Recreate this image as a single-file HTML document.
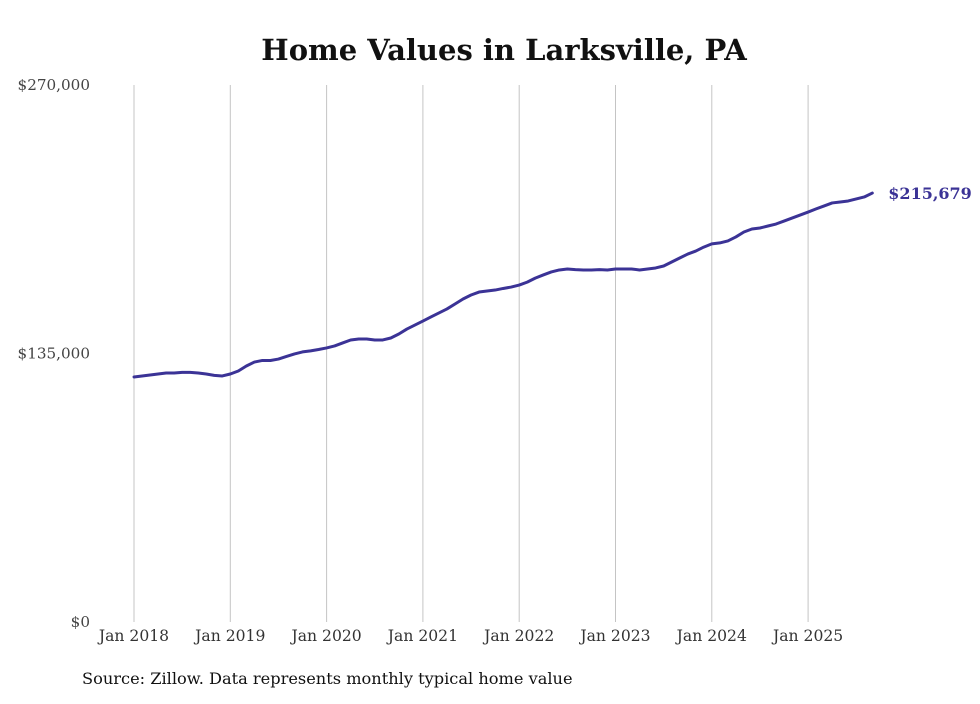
<!DOCTYPE html>
<html><head><meta charset="utf-8"><style>
body{margin:0;background:#fff;}
svg text{font-family:"DejaVu Serif","Liberation Serif",serif;}
</style></head><body>
<svg width="980" height="699" viewBox="0 0 980 699" xmlns="http://www.w3.org/2000/svg">
<text x="504" y="60" text-anchor="middle" font-size="29" font-weight="bold" fill="#111">Home Values in Larksville, PA</text>
<g id="grid"></g><g id="yaxis"></g><g id="xaxis"></g><g id="series"></g>
<text x="82" y="684" font-size="16.2" fill="#111">Source: Zillow. Data represents monthly typical home value</text>
</svg>
<script>
const yTicks=[0,135000,270000];
const yTickLabels=["$0","$135,000","$270,000"];
const xYears=[2018,2019,2020,2021,2022,2023,2024,2025];
const xTickLabels=["Jan 2018","Jan 2019","Jan 2020","Jan 2021","Jan 2022","Jan 2023","Jan 2024","Jan 2025"];
const startYear=2018;
const values=[
123200,123700,124200,124700,125200,125200,125500,125500,125200,124700,124000,123700,
124700,126200,128700,130700,131500,131500,132200,133500,134800,135800,136300,137000,
137800,138800,140300,141800,142300,142300,141800,141800,142800,144800,147300,149300,
151300,153400,155400,157400,159900,162400,164400,165900,166400,166900,167700,168400,
169400,170900,172900,174500,176000,177000,177500,177200,177000,177000,177200,177000,
177500,177500,177500,177000,177500,178000,179000,181000,183000,185000,186500,188500,
190100,190600,191600,193600,196100,197600,198100,199100,200100,201600,203100,204600,
206100,207700,209200,210700,211200,211700,212700,213700,215679];
const lastLabel="$215,679";
const NS="http://www.w3.org/2000/svg";
function yS(v){return 622-v*(537/270000);}
function xS(m){return 134+m*(96.3/12);}
function mk(tag,attrs,parent,txt){const e=document.createElementNS(NS,tag);for(const k in attrs)e.setAttribute(k,attrs[k]);if(txt!==undefined)e.textContent=txt;document.getElementById(parent).appendChild(e);return e;}
xYears.forEach((yr,i)=>{
  const x=xS((yr-startYear)*12);
  const l=mk('line',{x1:x,x2:x,y1:85,y2:622,stroke:'#c4c4c4','stroke-width':1},'grid');
  
  
  const t=mk('text',{x:x,y:641,'text-anchor':'middle','font-size':15.6,fill:'#333'},'xaxis',xTickLabels[i]);
  
  
});
yTicks.forEach((v,i)=>{
  const t=mk('text',{x:90,y:yS(v)+5,'text-anchor':'end','font-size':15.2,fill:'#444'},'yaxis',yTickLabels[i]);
  
  
});
let d='';
values.forEach((v,i)=>{d+=(i?'L':'M')+xS(i).toFixed(2)+','+yS(v).toFixed(2);});
const p=mk('path',{d:d,fill:'none',stroke:'#3b3396','stroke-width':3,'stroke-linejoin':'round','stroke-linecap':'round'},'series');


const li=values.length-1;
const lt=mk('text',{x:xS(li)+16,y:yS(values[li])+6,'font-size':16,'font-weight':'bold',fill:'#3b3396'},'series',lastLabel);


</script>
</body></html>
